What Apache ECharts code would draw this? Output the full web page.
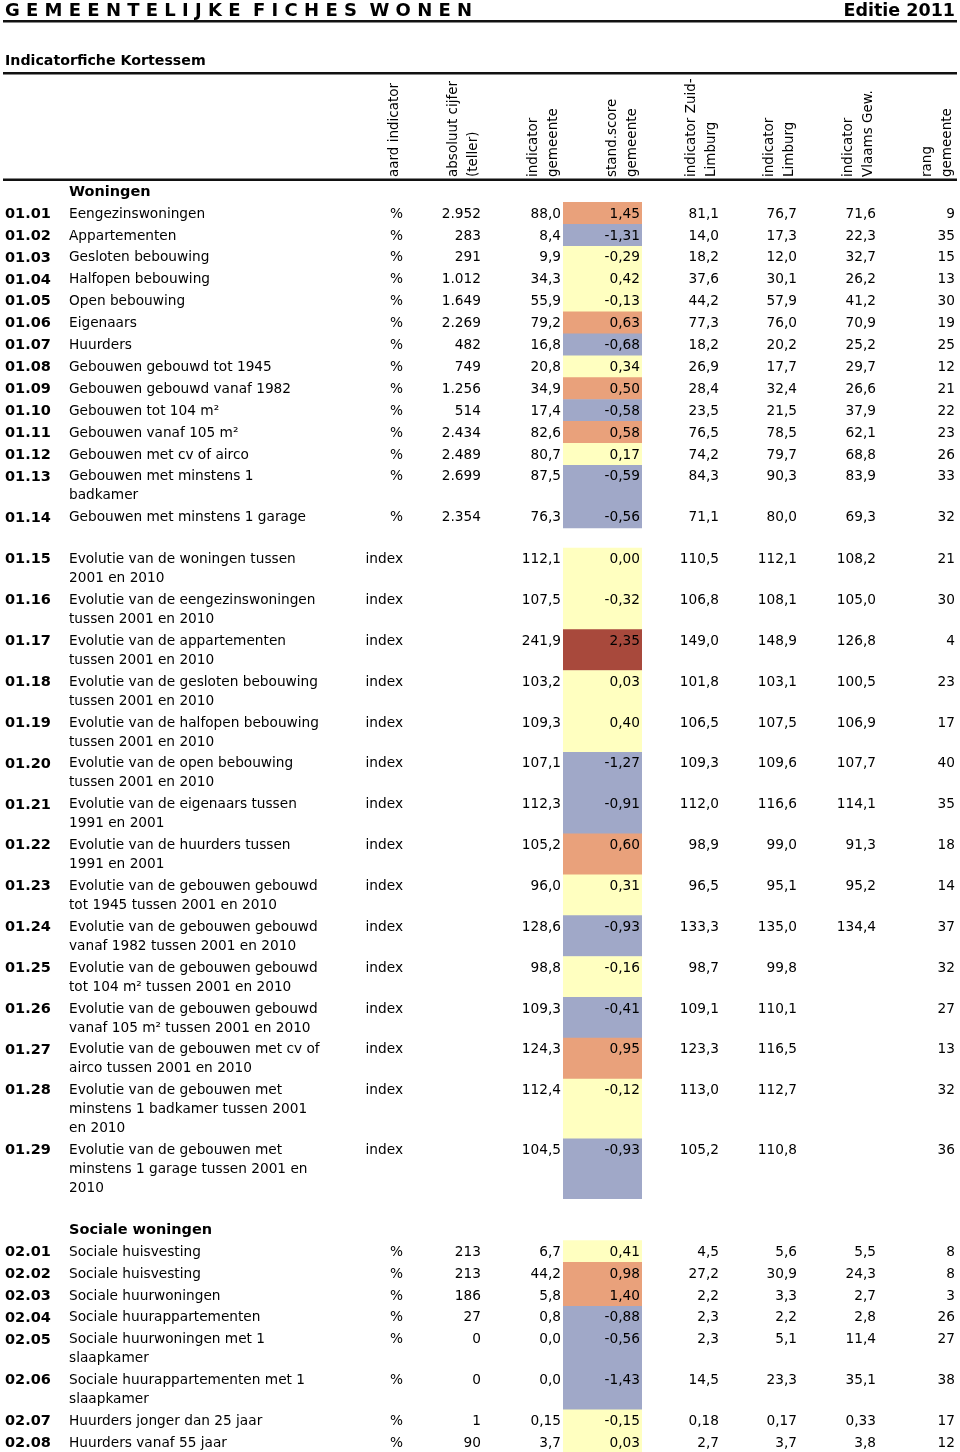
<!DOCTYPE html>
<html><head><meta charset="utf-8">
<script src="https://cdn.jsdelivr.net/npm/echarts@6/dist/echarts.min.js"></script>
<style>html,body{margin:0;padding:0;background:#fff}#c{width:960px;height:1452px}</style>
</head><body><div id="c"></div>
<script>
// ---------- DATA ----------
const pageTitle = 'GEMEENTELIJKE FICHES WONEN';
const edition = 'Editie 2011';
const subTitle = 'Indicatorfiche Kortessem';
const columnHeaders = ['aard indicator', 'absoluut cijfer\n(teller)', 'indicator\ngemeente', 'stand.score\ngemeente',
  'indicator Zuid-\nLimburg', 'indicator\nLimburg', 'indicator\nVlaams Gew.', 'rang\ngemeente'];
const sectionTitles = { '01.01': 'Woningen', '02.01': 'Sociale woningen' };
const blankBefore = ['01.15', '02.01'];

const codes = ['01.01','01.02','01.03','01.04','01.05','01.06','01.07','01.08','01.09','01.10','01.11','01.12','01.13','01.14',
  '01.15','01.16','01.17','01.18','01.19','01.20','01.21','01.22','01.23','01.24','01.25','01.26','01.27','01.28','01.29',
  '02.01','02.02','02.03','02.04','02.05','02.06','02.07','02.08'];
const labels = [
  'Eengezinswoningen', 'Appartementen', 'Gesloten bebouwing', 'Halfopen bebouwing', 'Open bebouwing',
  'Eigenaars', 'Huurders', 'Gebouwen gebouwd tot 1945', 'Gebouwen gebouwd vanaf 1982', 'Gebouwen tot 104 m²',
  'Gebouwen vanaf 105 m²', 'Gebouwen met cv of airco', 'Gebouwen met minstens 1\nbadkamer', 'Gebouwen met minstens 1 garage',
  'Evolutie van de woningen tussen\n2001 en 2010',
  'Evolutie van de eengezinswoningen\ntussen 2001 en 2010',
  'Evolutie van de appartementen\ntussen 2001 en 2010',
  'Evolutie van de gesloten bebouwing\ntussen 2001 en 2010',
  'Evolutie van de halfopen bebouwing\ntussen 2001 en 2010',
  'Evolutie van de open bebouwing\ntussen 2001 en 2010',
  'Evolutie van de eigenaars tussen\n1991 en 2001',
  'Evolutie van de huurders tussen\n1991 en 2001',
  'Evolutie van de gebouwen gebouwd\ntot 1945 tussen 2001 en 2010',
  'Evolutie van de gebouwen gebouwd\nvanaf 1982 tussen 2001 en 2010',
  'Evolutie van de gebouwen gebouwd\ntot 104 m² tussen 2001 en 2010',
  'Evolutie van de gebouwen gebouwd\nvanaf 105 m² tussen 2001 en 2010',
  'Evolutie van de gebouwen met cv of\nairco tussen 2001 en 2010',
  'Evolutie van de gebouwen met\nminstens 1 badkamer tussen 2001\nen 2010',
  'Evolutie van de gebouwen met\nminstens 1 garage tussen 2001 en\n2010',
  'Sociale huisvesting', 'Sociale huisvesting', 'Sociale huurwoningen', 'Sociale huurappartementen',
  'Sociale huurwoningen met 1\nslaapkamer', 'Sociale huurappartementen met 1\nslaapkamer',
  'Huurders jonger dan 25 jaar', 'Huurders vanaf 55 jaar'];
const aard = ['%','%','%','%','%','%','%','%','%','%','%','%','%','%',
  'index','index','index','index','index','index','index','index','index','index','index','index','index','index','index',
  '%','%','%','%','%','%','%','%'];
const absolute = [2952, 283, 291, 1012, 1649, 2269, 482, 749, 1256, 514, 2434, 2489, 2699, 2354,
  null, null, null, null, null, null, null, null, null, null, null, null, null, null, null,
  213, 213, 186, 27, 0, 0, 1, 90];
const indGemeente = [88.0, 8.4, 9.9, 34.3, 55.9, 79.2, 16.8, 20.8, 34.9, 17.4, 82.6, 80.7, 87.5, 76.3,
  112.1, 107.5, 241.9, 103.2, 109.3, 107.1, 112.3, 105.2, 96.0, 128.6, 98.8, 109.3, 124.3, 112.4, 104.5,
  6.7, 44.2, 5.8, 0.8, 0.0, 0.0, 0.15, 3.7];
const standScore = [1.45, -1.31, -0.29, 0.42, -0.13, 0.63, -0.68, 0.34, 0.50, -0.58, 0.58, 0.17, -0.59, -0.56,
  0.00, -0.32, 2.35, 0.03, 0.40, -1.27, -0.91, 0.60, 0.31, -0.93, -0.16, -0.41, 0.95, -0.12, -0.93,
  0.41, 0.98, 1.40, -0.88, -0.56, -1.43, -0.15, 0.03];
const indZuidLimburg = [81.1, 14.0, 18.2, 37.6, 44.2, 77.3, 18.2, 26.9, 28.4, 23.5, 76.5, 74.2, 84.3, 71.1,
  110.5, 106.8, 149.0, 101.8, 106.5, 109.3, 112.0, 98.9, 96.5, 133.3, 98.7, 109.1, 123.3, 113.0, 105.2,
  4.5, 27.2, 2.2, 2.3, 2.3, 14.5, 0.18, 2.7];
const indLimburg = [76.7, 17.3, 12.0, 30.1, 57.9, 76.0, 20.2, 17.7, 32.4, 21.5, 78.5, 79.7, 90.3, 80.0,
  112.1, 108.1, 148.9, 103.1, 107.5, 109.6, 116.6, 99.0, 95.1, 135.0, 99.8, 110.1, 116.5, 112.7, 110.8,
  5.6, 30.9, 3.3, 2.2, 5.1, 23.3, 0.17, 3.7];
const indVlaams = [71.6, 22.3, 32.7, 26.2, 41.2, 70.9, 25.2, 29.7, 26.6, 37.9, 62.1, 68.8, 83.9, 69.3,
  108.2, 105.0, 126.8, 100.5, 106.9, 107.7, 114.1, 91.3, 95.2, 134.4, null, null, null, null, null,
  5.5, 24.3, 2.7, 2.8, 11.4, 35.1, 0.33, 3.8];
const rang = [9, 35, 15, 13, 30, 19, 25, 12, 21, 22, 23, 26, 33, 32,
  21, 30, 4, 23, 17, 40, 35, 18, 14, 37, 32, 27, 13, 32, 36,
  8, 8, 3, 26, 27, 38, 17, 12];
const indDecimals = codes.map(c => c === '02.07' ? 2 : 1);

// ---------- LAYOUT ----------
const FONT = '"DejaVu Sans", sans-serif';
const FS = 13.7, FSB = 14.5, LH = 19;
const TOP = 180.5;                 // header rule
const ROW1 = 21.9, LINE = 18.95, BLANK = 20;
const X = { code: 5, label: 69, aard: 403, abs: 481, ind: 561, cellL: 563, cellR: 642, score: 640,
  zl: 719, lb: 797, vl: 876, rang: 955 };
const headerRight = [403, 481, 561, 640, 719, 797, 876, 955];

const items = [];
const rowLayout = [];
let yCur = TOP;
codes.forEach((c, i) => {
  if (blankBefore.includes(c)) yCur += BLANK;
  if (sectionTitles[c]) { items.push({ type: 'section', text: sectionTitles[c], top: yCur, h: ROW1 }); yCur += ROW1; }
  const n = labels[i].split('\n').length;
  const h = ROW1 + (n - 1) * LINE;
  const it = { type: 'row', i, top: yCur, h };
  items.push(it); rowLayout[i] = it; yCur += h;
});

const fmtDec = (v, d) => v == null ? '' : v.toFixed(d).replace('.', ',');
const fmtInt = v => v == null ? '' : String(v).replace(/\B(?=(\d{3})+(?!\d))/g, '.');

function textEl(api, x, y, s, align, bold) {
  const p = api.coord([x, y]);
  return { type: 'text', x: p[0], y: p[1], silent: true,
    style: { text: s, fill: '#000', font: (bold ? 'bold ' + FSB : FS) + 'px ' + FONT,
      align: align, verticalAlign: 'top', textAlign: align, textVerticalAlign: 'top', lineHeight: LH } };
}

// header graphics
const graphics = [];
const spaced = pageTitle.split(' ').map(w => w.split('').join(' ')).join('  ');
graphics.push({ type: 'text', x: 5, y: 11, style: { text: spaced, font: 'bold 18px ' + FONT, fill: '#000', align: 'left', verticalAlign: 'middle' } });
graphics.push({ type: 'text', x: 955, y: 11, style: { text: edition, font: 'bold 17.5px ' + FONT, fill: '#000', align: 'right', verticalAlign: 'middle' } });
graphics.push({ type: 'rect', shape: { x: 3, y: 20, width: 954, height: 2.6 }, style: { fill: '#111' } });
graphics.push({ type: 'text', x: 5, y: 61, style: { text: subTitle, font: 'bold 14.2px ' + FONT, fill: '#000', align: 'left', verticalAlign: 'middle' } });
graphics.push({ type: 'rect', shape: { x: 3, y: 72, width: 954, height: 2.6 }, style: { fill: '#111' } });
graphics.push({ type: 'rect', shape: { x: 3, y: 178.5, width: 954, height: 2.6 }, style: { fill: '#111' } });
columnHeaders.forEach((h, k) => {
  const lines = h.split('\n');
  lines.forEach((ln, j) => {
    const xc = headerRight[k] - 8 - (lines.length - 1 - j) * 20 - (lines.length === 1 ? 1 : 0);
    graphics.push({ type: 'text', x: xc, y: 177, rotation: Math.PI / 2,
      style: { text: ln, font: '13.5px ' + FONT, fill: '#000', align: 'left', verticalAlign: 'middle' } });
  });
});

const chart = echarts.init(document.getElementById('c'), null, { renderer: 'canvas' });
chart.setOption({
  animation: false,
  backgroundColor: '#fff',
  grid: { left: 0, right: 0, top: 0, bottom: 0 },
  xAxis: { type: 'value', min: 0, max: 960, show: false },
  yAxis: { type: 'value', min: 0, max: 1452, inverse: true, show: false },
  visualMap: { type: 'piecewise', show: false, seriesIndex: 0, dimension: 1,
    pieces: [
      { gte: 2, color: '#A8493C' },
      { gte: 0.5, lt: 2, color: '#E9A17B' },
      { gt: -0.4, lt: 0.5, color: '#FFFFC0' },
      { lte: -0.4, color: '#A0A8C8' }
    ] },
  graphic: graphics,
  series: [
    { type: 'custom', coordinateSystem: 'cartesian2d', silent: true, z: 1,
      data: standScore.map((v, i) => [i, v]),
      encode: { x: -1, y: -1 },
      renderItem: (params, api) => {
        const L = rowLayout[api.value(0)];
        const p0 = api.coord([X.cellL, L.top]);
        const p1 = api.coord([X.cellR, L.top + L.h]);
        return { type: 'rect', shape: { x: p0[0], y: p0[1] - 0.3, width: p1[0] - p0[0], height: p1[1] - p0[1] + 0.6 },
          style: { fill: api.visual('color') } };
      } },
    { type: 'custom', coordinateSystem: 'cartesian2d', silent: true, z: 2,
      data: items.map((it, k) => [k]),
      encode: { x: -1, y: -1 },
      renderItem: (params, api) => {
        const it = items[api.value(0)];
        const ty = it.top + 2.2;
        if (it.type === 'section') {
          return { type: 'group', children: [textEl(api, X.label, ty, it.text, 'left', true)] };
        }
        const i = it.i;
        const ch = [
          textEl(api, X.code, ty, codes[i], 'left', true),
          textEl(api, X.label, ty, labels[i], 'left', false),
          textEl(api, X.aard, ty, aard[i], 'right', false),
          textEl(api, X.abs, ty, fmtInt(absolute[i]), 'right', false),
          textEl(api, X.ind, ty, fmtDec(indGemeente[i], indDecimals[i]), 'right', false),
          textEl(api, X.score, ty, fmtDec(standScore[i], 2), 'right', false),
          textEl(api, X.zl, ty, fmtDec(indZuidLimburg[i], indDecimals[i]), 'right', false),
          textEl(api, X.lb, ty, fmtDec(indLimburg[i], indDecimals[i]), 'right', false),
          textEl(api, X.vl, ty, fmtDec(indVlaams[i], indDecimals[i]), 'right', false),
          textEl(api, X.rang, ty, String(rang[i]), 'right', false)
        ];
        return { type: 'group', children: ch };
      } }
  ]
});
</script>
</body></html>
